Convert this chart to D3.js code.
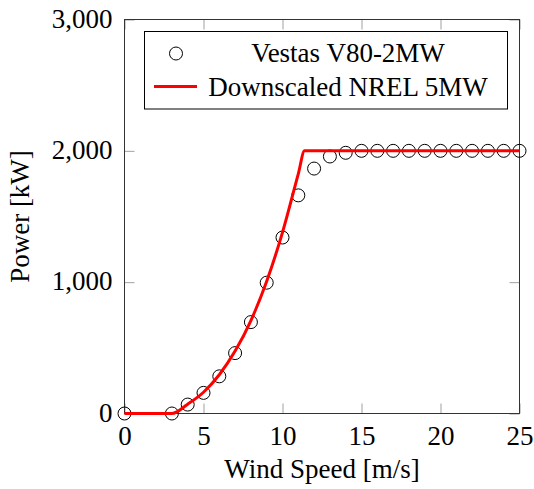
<!DOCTYPE html>
<html>
<head>
<meta charset="utf-8">
<script src="https://cdn.jsdelivr.net/npm/d3@7"></script>
<style>
  html, body { margin: 0; padding: 0; background: #fff; }
  svg { display: block; }
  svg text { font-family: 'Liberation Serif', 'Tinos', 'Times New Roman', Times, serif !important; fill: #000; }
</style>
</head>
<body>
<svg id="chart" width="534" height="489"></svg>
<script>
// ---- data ----
const vestasSpeed = [0, 3, 4, 5, 6, 7, 8, 9, 10, 11, 12, 13, 14, 15, 16, 17, 18, 19, 20, 21, 22, 23, 24, 25];
const vestasPower = [0, 0, 68, 157, 283, 460, 696, 996, 1340, 1661, 1865, 1957, 1985, 2000, 2000, 2000, 2000, 2000, 2000, 2000, 2000, 2000, 2000, 2000];
const nrelSpeed = [0, 3, 4, 5, 6, 7, 8, 9, 10, 11, 11.4, 12, 25];
const nrelPower = [0, 0, 71, 162, 295, 475, 708, 1007, 1379, 1825, 2000, 2000, 2000];
const xTicks = [0, 5, 10, 15, 20, 25];
const yTicks = [0, 1000, 2000, 3000];
const seriesNames = ["Vestas V80-2MW", "Downscaled NREL 5MW"];
const xLabel = "Wind Speed [m/s]";
const yLabel = "Power [kW]";

// ---- layout ----
const svg = d3.select("#chart");
const m = { left: 124.5, top: 19.5 };
const W = 395, H = 394;
const fs = 27;
const FONT = "'Liberation Serif', 'Tinos', 'Times New Roman', Times, serif";

const x = d3.scaleLinear().domain([0, 25]).range([0, W]);
const y = d3.scaleLinear().domain([0, 3000]).range([H, 0]);

const g = svg.append("g").attr("transform", `translate(${m.left},${m.top})`);

const tickColor = "#a0a0a0";
function styleAxis(sel, labels) {
  sel.attr("font-family", FONT).attr("font-size", fs);
  sel.select(".domain").remove();
  sel.selectAll(".tick line").attr("stroke", tickColor).attr("stroke-width", 1);
  if (!labels) sel.selectAll(".tick text").remove();
  else sel.selectAll(".tick text").style("font-size", fs + "px").style("font-family", FONT);
}

g.append("g").attr("transform", `translate(0,${H})`)
  .call(d3.axisBottom(x).tickValues(xTicks).tickSizeInner(-10).tickSizeOuter(0).tickPadding(12).tickFormat(d3.format("d")))
  .call(s => styleAxis(s, true));
g.append("g")
  .call(d3.axisTop(x).tickValues(xTicks).tickSizeInner(-10).tickSizeOuter(0))
  .call(s => styleAxis(s, false));
g.append("g")
  .call(d3.axisLeft(y).tickValues(yTicks).tickSizeInner(-10).tickSizeOuter(0).tickPadding(12).tickFormat(d3.format(",")))
  .call(s => styleAxis(s, true))
  .call(s => s.selectAll(".tick text").attr("dy", "0.28em"));
g.append("g").attr("transform", `translate(${W},0)`)
  .call(d3.axisRight(y).tickValues(yTicks).tickSizeInner(-10).tickSizeOuter(0))
  .call(s => styleAxis(s, false));

g.append("rect").attr("x", 0).attr("y", 0).attr("width", W).attr("height", H)
  .attr("fill", "none").attr("stroke", "#333").attr("stroke-width", 1);

const vestas = vestasSpeed.map((s, i) => ({ s, p: vestasPower[i] }));
g.append("g").selectAll("circle").data(vestas).join("circle")
  .attr("cx", d => x(d.s)).attr("cy", d => y(d.p)).attr("r", 6.5)
  .attr("fill", "none").attr("stroke", "#000").attr("stroke-width", 1);

const nrel = nrelSpeed.map((s, i) => ({ s, p: nrelPower[i] }));
g.append("path").datum(nrel)
  .attr("fill", "none").attr("stroke", "#ff0000").attr("stroke-width", 3)
  .attr("stroke-linejoin", "round")
  .attr("d", d3.line().x(d => x(d.s)).y(d => y(d.p)).curve(d3.curveMonotoneX));

const lg = svg.append("g");
lg.append("rect").attr("x", 144.5).attr("y", 31.5).attr("width", 363).attr("height", 77.5)
  .attr("fill", "#fff").attr("stroke", "#000").attr("stroke-width", 1);
lg.append("circle").attr("cx", 176).attr("cy", 53.5).attr("r", 6.5)
  .attr("fill", "none").attr("stroke", "#000").attr("stroke-width", 1);
lg.append("line").attr("x1", 154).attr("x2", 197).attr("y1", 86.5).attr("y2", 86.5)
  .attr("stroke", "#ff0000").attr("stroke-width", 3);
function addText(sel) { return sel.style("font-family", FONT).style("font-size", fs + "px"); }
addText(lg.append("text").attr("x", 348).attr("y", 62).attr("text-anchor", "middle")).text(seriesNames[0]);
addText(lg.append("text").attr("x", 348).attr("y", 95.5).attr("text-anchor", "middle")).text(seriesNames[1]);

addText(svg.append("text").attr("x", m.left + W / 2).attr("y", 478).attr("text-anchor", "middle")).text(xLabel);
addText(svg.append("text").attr("transform", `translate(29,${m.top + H / 2}) rotate(-90)`)
  .attr("text-anchor", "middle")).text(yLabel);
</script>
</body>
</html>
